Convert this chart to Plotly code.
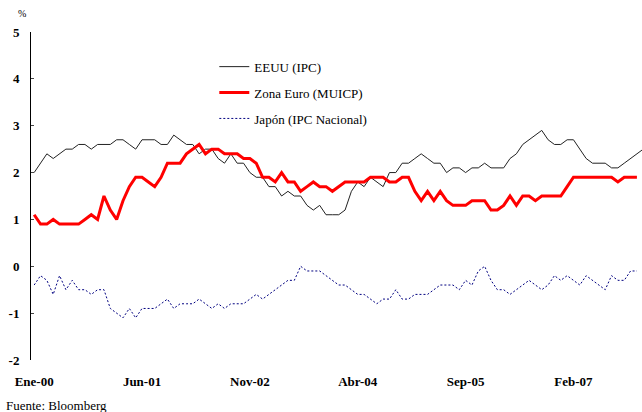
import plotly.graph_objects as go

# Inflación subyacente, variación interanual (%), datos mensuales desde Ene-00
eeuu = [2.0, 2.2, 2.4, 2.3, 2.4, 2.5, 2.5, 2.6, 2.6, 2.5, 2.6, 2.6,
        2.6, 2.7, 2.7, 2.6, 2.5, 2.7, 2.7, 2.7, 2.6, 2.6, 2.8, 2.7,
        2.6, 2.6, 2.4, 2.5, 2.5, 2.3, 2.2, 2.4, 2.2, 2.2, 2.0, 1.9,
        1.9, 1.7, 1.7, 1.5, 1.6, 1.5, 1.5, 1.3, 1.2, 1.3, 1.1, 1.1,
        1.1, 1.2, 1.6, 1.8, 1.7, 1.9, 1.8, 1.7, 2.0, 2.0, 2.2, 2.2,
        2.3, 2.4, 2.3, 2.2, 2.2, 2.0, 2.1, 2.1, 2.0, 2.1, 2.1, 2.2,
        2.1, 2.1, 2.1, 2.3, 2.4, 2.6, 2.7, 2.8, 2.9, 2.7, 2.6, 2.6,
        2.7, 2.7, 2.5, 2.3, 2.2, 2.2, 2.2, 2.1, 2.1, 2.2, 2.3, 2.4,
        2.5]

zona_euro = [1.1, 0.9, 0.9, 1.0, 0.9, 0.9, 0.9, 0.9, 1.0, 1.1, 1.0, 1.5,
             1.2, 1.0, 1.4, 1.7, 1.9, 1.9, 1.8, 1.7, 1.9, 2.2, 2.2, 2.2,
             2.4, 2.5, 2.6, 2.4, 2.5, 2.5, 2.4, 2.4, 2.4, 2.3, 2.3, 2.2,
             1.9, 1.9, 1.8, 2.0, 1.8, 1.8, 1.6, 1.7, 1.8, 1.7, 1.7, 1.6,
             1.7, 1.8, 1.8, 1.8, 1.8, 1.9, 1.9, 1.9, 1.8, 1.8, 1.9, 1.9,
             1.6, 1.4, 1.6, 1.4, 1.6, 1.4, 1.3, 1.3, 1.3, 1.4, 1.4, 1.4,
             1.2, 1.2, 1.3, 1.5, 1.3, 1.5, 1.5, 1.4, 1.5, 1.5, 1.5, 1.5,
             1.7, 1.9, 1.9, 1.9, 1.9, 1.9, 1.9, 1.9, 1.8, 1.9, 1.9, 1.9]

japon = [-0.4, -0.2, -0.3, -0.6, -0.2, -0.5, -0.3, -0.5, -0.5, -0.6, -0.5, -0.5,
         -0.9, -1.0, -1.1, -0.9, -1.1, -0.9, -0.9, -0.9, -0.8, -0.7, -0.9, -0.8,
         -0.8, -0.8, -0.7, -0.8, -0.9, -0.8, -0.9, -0.8, -0.8, -0.8, -0.7, -0.6,
         -0.7, -0.6, -0.5, -0.4, -0.3, -0.3, 0.0, -0.1, -0.1, -0.1, -0.2, -0.3,
         -0.4, -0.4, -0.5, -0.6, -0.6, -0.7, -0.8, -0.7, -0.7, -0.5, -0.7, -0.7,
         -0.6, -0.6, -0.6, -0.5, -0.4, -0.4, -0.4, -0.5, -0.3, -0.4, -0.1, 0.0,
         -0.3, -0.5, -0.5, -0.6, -0.5, -0.4, -0.3, -0.4, -0.5, -0.4, -0.2, -0.3,
         -0.2, -0.3, -0.4, -0.2, -0.3, -0.4, -0.5, -0.2, -0.3, -0.3, -0.1, -0.1]

etiquetas_x = ["Ene-00", "Jun-01", "Nov-02", "Abr-04", "Sep-05", "Feb-07"]
pos_etiquetas = [0, 17, 34, 51, 68, 85]
valores_y = [-2, -1, 0, 1, 2, 3, 4, 5]

serif = "Liberation Serif"

fig = go.Figure()
fig.add_trace(go.Scatter(x=list(range(len(eeuu))), y=eeuu, mode="lines",
                         name="EEUU (IPC)", legendgroup="a",
                         line=dict(color="#222222", width=1)))
fig.add_trace(go.Scatter(x=list(range(len(zona_euro))), y=zona_euro, mode="lines",
                         name="Zona Euro (MUICP)", legendgroup="b",
                         line=dict(color="#ff0000", width=3)))
fig.add_trace(go.Scatter(x=list(range(len(japon))), y=japon, mode="lines",
                         name="Japón (IPC Nacional)", legendgroup="c",
                         line=dict(color="#000080", width=1, dash="2px,2px")))

fig.update_layout(
    width=642, height=412,
    margin=dict(l=31, r=0, t=32, b=52, autoexpand=False),
    paper_bgcolor="white", plot_bgcolor="white",
    font=dict(family=serif, color="black"),
    xaxis=dict(range=[-0.5, 95.8], showgrid=False, zeroline=False, showline=False,
               ticks="", tickvals=pos_etiquetas, ticktext=etiquetas_x, automargin=False,
               tickfont=dict(size=13, weight="bold"), ticklabelstandoff=12),
    xaxis2=dict(overlaying="x", matches="x", anchor="free", position=2 / 7,
                showgrid=False, zeroline=False, showline=True, linecolor="#444444",
                linewidth=1.5, ticks="inside", ticklen=4, tickcolor="black",
                automargin=False,
                tickvals=[p - 0.5 for p in pos_etiquetas], showticklabels=False),
    yaxis=dict(range=[-2, 5], showgrid=False, zeroline=False, showline=True,
               linecolor="black", linewidth=1, ticks="inside", ticklen=3,
               automargin=False,
               tickvals=valores_y, ticktext=[str(v) for v in valores_y],
               tickfont=dict(size=13, weight="bold"), ticklabelstandoff=8),
    legend=dict(x=0.3, y=0.94, xanchor="left", yanchor="top",
                bgcolor="rgba(0,0,0,0)", font=dict(size=13), tracegroupgap=6),
    showlegend=True,
    annotations=[
        dict(text="%", xref="paper", yref="paper", x=-0.014, y=1.035,
             xanchor="center", yanchor="bottom", showarrow=False,
             font=dict(size=10)),
        dict(text="Fuente: Bloomberg", xref="paper", yref="paper",
             x=-27 / 611, y=-0.138, xanchor="left", yanchor="middle",
             showarrow=False, font=dict(size=13)),
    ],
)

fig.write_html("out.html", config={"displayModeBar": False},
               post_script="document.body.style.margin='0';")
